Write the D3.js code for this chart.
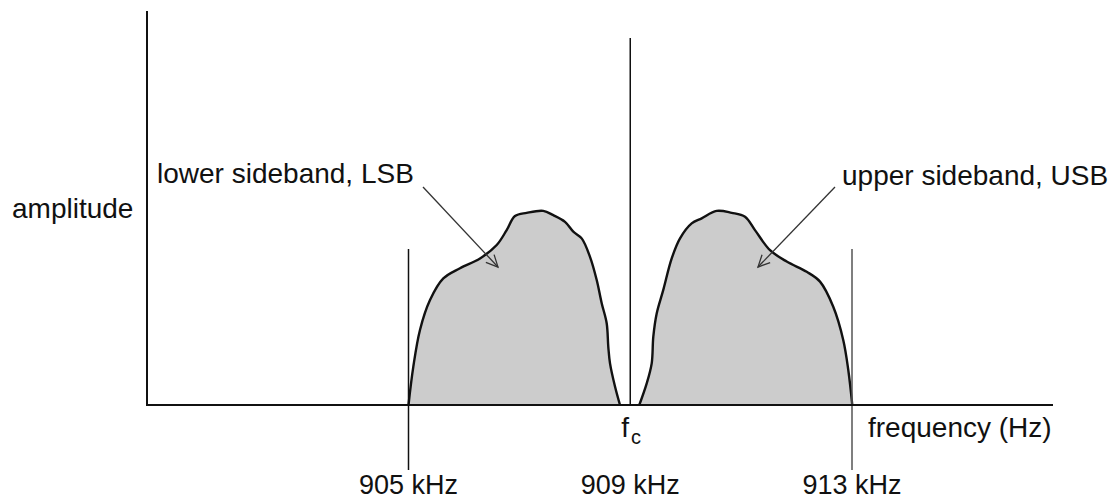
<!DOCTYPE html>
<html>
<head>
<meta charset="utf-8">
<script src="https://cdn.jsdelivr.net/npm/d3@7"></script>
<style>
  html, body { margin: 0; padding: 0; background: #fff; }
  svg { display: block; }
  text { font-family: "Liberation Sans", Arial, sans-serif; fill: #111; }
</style>
</head>
<body>
<svg id="chart" width="1116" height="501"></svg>
<script>
// ---- data (frequency in kHz, amplitude in arbitrary units 0..100) ----
const tickFreqs = [905, 909, 913];
const tickLabels = ["905 kHz", "909 kHz", "913 kHz"];

const lsbFreq = [905.0, 905.087, 905.207, 905.388, 905.628, 905.929, 906.29, 906.591, 906.771, 906.921, 907.132, 907.431, 907.612, 907.823, 907.973, 908.124, 908.274, 908.395, 908.485, 908.575, 908.604, 908.635, 908.725, 908.815];
const lsbAmp  = [0, 9.75, 19.1, 26.7, 32.2, 34.8, 37.3, 40.7, 44.5, 48.1, 48.9, 49.4, 48.3, 46.6, 44.1, 42.4, 37.7, 31.8, 25.9, 20.8, 14.8, 10.6, 4.7, 0];

const usbFreq = [909.163, 909.297, 909.387, 909.416, 909.477, 909.596, 909.748, 909.898, 910.108, 910.289, 910.559, 910.83, 911.07, 911.25, 911.521, 911.822, 912.183, 912.423, 912.662, 912.843, 912.933, 913.005];
const usbAmp  = [0, 5.5, 10.6, 17.4, 23.3, 29.3, 37.3, 42.4, 46.2, 47.5, 49.4, 48.9, 47.9, 44.5, 39.4, 36.5, 33.9, 31.4, 25.0, 16.5, 8.9, 0];

const annotLabels = ["lower sideband, LSB", "upper sideband, USB"];
const annotTipFreq = [906.614, 911.304];
const annotTipAmp = [35.1, 35.1];

const carrierFreq = 909;
const axisLabelY = "amplitude";
const axisLabelX = "frequency (Hz)";

// ---- layout ----
const svg = d3.select("#chart");
const x = d3.scaleLinear().domain([905, 913]).range([408.5, 852]);
const y = d3.scaleLinear().domain([0, 100]).range([405, 12]);
const x0 = 147, xEnd = 1053;

const area = d3.area()
  .x(d => x(d[0])).y0(y(0)).y1(d => y(d[1]))
  .curve(d3.curveCatmullRom.alpha(0.5));
const line = d3.line()
  .x(d => x(d[0])).y(d => y(d[1]))
  .curve(d3.curveCatmullRom.alpha(0.5));

const bands = [d3.zip(lsbFreq, lsbAmp), d3.zip(usbFreq, usbAmp)];
bands.forEach(pts => {
  svg.append("path").attr("d", area(pts)).attr("fill", "#cccccc").attr("stroke", "none");
  svg.append("path").attr("d", line(pts)).attr("fill", "none")
    .attr("stroke", "#111").attr("stroke-width", 2.4).attr("stroke-linejoin", "round");
});

// frequency marker lines
svg.selectAll("line.mark").data(tickFreqs).enter().append("line")
  .attr("class", "mark")
  .attr("x1", d => x(d)).attr("x2", d => x(d))
  .attr("y1", d => d === carrierFreq ? 38 : 249)
  .attr("y2", d => d === carrierFreq ? y(0) : 470)
  .attr("stroke", d => d === 913 ? "#555" : "#111")
  .attr("stroke-width", 1.5);

// axes
svg.append("line").attr("x1", x0).attr("x2", x0).attr("y1", 11).attr("y2", y(0) + 1)
  .attr("stroke", "#111").attr("stroke-width", 2);
svg.append("line").attr("x1", x0).attr("x2", xEnd).attr("y1", y(0)).attr("y2", y(0))
  .attr("stroke", "#111").attr("stroke-width", 2.2);

// tick labels
svg.selectAll("text.tick").data(tickFreqs).enter().append("text")
  .attr("class", "tick")
  .attr("x", d => x(d)).attr("y", 494)
  .attr("text-anchor", "middle").attr("font-size", 27)
  .text((d, i) => tickLabels[i]);

// f_c label
const fc = svg.append("text").attr("x", x(carrierFreq) - 9).attr("y", 437).attr("font-size", 28);
fc.append("tspan").text("f");
fc.append("tspan").attr("font-size", 20).attr("dy", 7).attr("dx", 2).text("c");

// axis labels
svg.append("text").attr("x", 12).attr("y", 218).attr("font-size", 28).text(axisLabelY);
svg.append("text").attr("x", 868).attr("y", 437).attr("font-size", 28).text(axisLabelX);

// annotations
const labelPos = [[157, 183, 423, 187], [842, 185, 835, 187]];
annotLabels.forEach((t, i) => {
  const [lx, ly, sx, sy] = labelPos[i];
  svg.append("text").attr("x", lx).attr("y", ly).attr("font-size", 28).text(t);
  const tx = x(annotTipFreq[i]), ty = y(annotTipAmp[i]);
  svg.append("line").attr("x1", sx).attr("y1", sy).attr("x2", tx).attr("y2", ty)
    .attr("stroke", "#333").attr("stroke-width", 1.3);
  const ang = Math.atan2(ty - sy, tx - sx);
  const L = 13, spread = Math.PI / 7;
  const p1 = [tx - L * Math.cos(ang - spread), ty - L * Math.sin(ang - spread)];
  const p2 = [tx - L * Math.cos(ang + spread), ty - L * Math.sin(ang + spread)];
  svg.append("path")
    .attr("d", `M${p1[0]},${p1[1]}L${tx},${ty}L${p2[0]},${p2[1]}`)
    .attr("fill", "none").attr("stroke", "#333").attr("stroke-width", 1.3);
});
</script>
</body>
</html>
